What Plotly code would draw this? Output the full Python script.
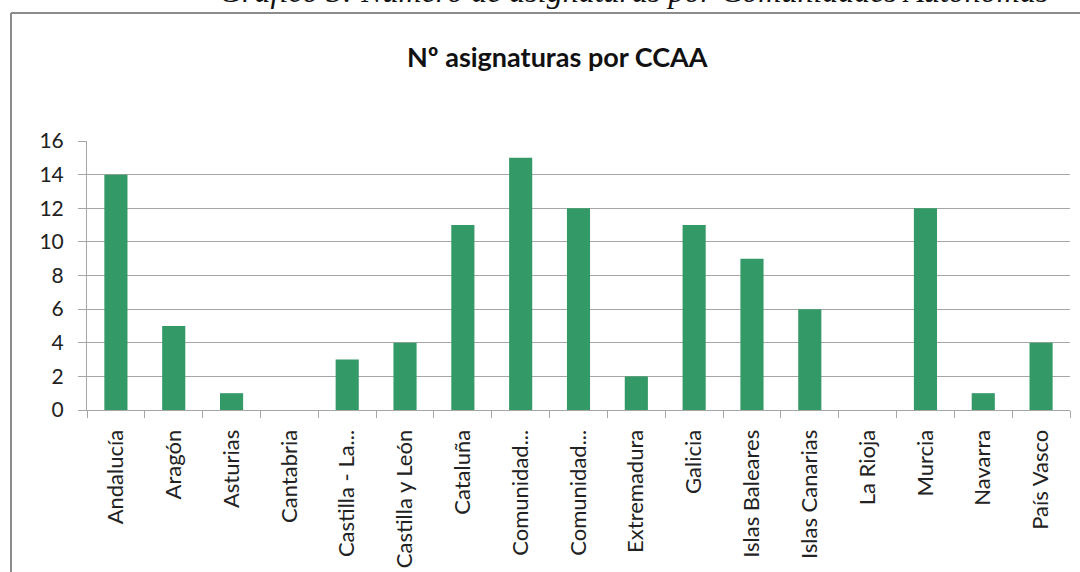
import plotly.graph_objects as go

categories = ["Andalucía", "Aragón", "Asturias", "Cantabria", "Castilla - La Mancha",
              "Castilla y León", "Cataluña", "Comunidad de Madrid", "Comunidad Valenciana",
              "Extremadura", "Galicia", "Islas Baleares", "Islas Canarias", "La Rioja",
              "Murcia", "Navarra", "País Vasco"]
tick_labels = ["Andalucía", "Aragón", "Asturias", "Cantabria", "Castilla - La...",
               "Castilla y León", "Cataluña", "Comunidad...", "Comunidad...",
               "Extremadura", "Galicia", "Islas Baleares", "Islas Canarias", "La Rioja",
               "Murcia", "Navarra", "País Vasco"]
values = [14, 5, 1, 0, 3, 4, 11, 15, 12, 2, 11, 9, 6, 0, 12, 1, 4]
y_ticks = [0, 2, 4, 6, 8, 10, 12, 14, 16]

W, H = 1080, 572
L, R, T, B = 87, 10, 141, 162
pw, ph = W - L - R, H - T - B

def px_x(p):
    return (p - L) / pw

def px_y(p):
    return 1 + (T - p) / ph

fig = go.Figure(go.Bar(
    x=categories, y=values,
    marker=dict(color="#339966", line=dict(width=0)),
    hoverinfo="skip",
))

fig.update_layout(
    width=W, height=H,
    margin=dict(l=L, r=R, t=T, b=B, autoexpand=False),
    paper_bgcolor="white", plot_bgcolor="white",
    bargap=0.6,
    showlegend=False,
    font=dict(family="Lato, Open Sans, sans-serif", color="#222"),
    xaxis=dict(
        tickmode="array", tickvals=categories, ticktext=tick_labels,
        tickangle=-90, tickfont=dict(size=22, color="#222"),
        showline=True, linecolor="#a6a6a6", linewidth=1,
        ticks="outside", tickson="boundaries", ticklen=7, tickcolor="#a6a6a6",
        ticklabelstandoff=10, automargin=False,
        showgrid=False,
    ),
    yaxis=dict(
        range=[0, 16], tickvals=y_ticks, tickfont=dict(size=21, color="#222"),
        showline=True, linecolor="#a6a6a6", linewidth=1,
        ticks="outside", ticklen=8, tickcolor="#a6a6a6",
        ticklabelstandoff=10, automargin=False,
        showgrid=True, gridcolor="#a6a6a6", gridwidth=1,
        zeroline=False,
    ),
    annotations=[
        dict(text="<b>Nº asignaturas por CCAA</b>", xref="paper", yref="paper",
             x=px_x(557), y=px_y(57), xanchor="center", yanchor="middle",
             showarrow=False, font=dict(size=27, color="#111",
                                        family="Lato, sans-serif")),
        dict(text="<i>Gráfico 3: Número de asignaturas por Comunidades Autónomas</i>",
             xref="paper", yref="paper",
             x=px_x(1050), y=px_y(11), xanchor="right", yanchor="bottom",
             showarrow=False,
             font=dict(size=32, color="#111", family="Liberation Serif, serif")),
    ],
    shapes=[
        dict(type="line", xref="paper", yref="paper",
             x0=px_x(11), x1=px_x(1090), y0=px_y(13), y1=px_y(13),
             line=dict(color="#8c8c8c", width=2)),
        dict(type="line", xref="paper", yref="paper",
             x0=px_x(11), x1=px_x(11), y0=px_y(13), y1=px_y(590),
             line=dict(color="#8c8c8c", width=2)),
    ],
)

fig.write_html("out.html", config={"displayModeBar": False},
               post_script="document.body.style.margin='0px';document.body.style.overflow='hidden';")
